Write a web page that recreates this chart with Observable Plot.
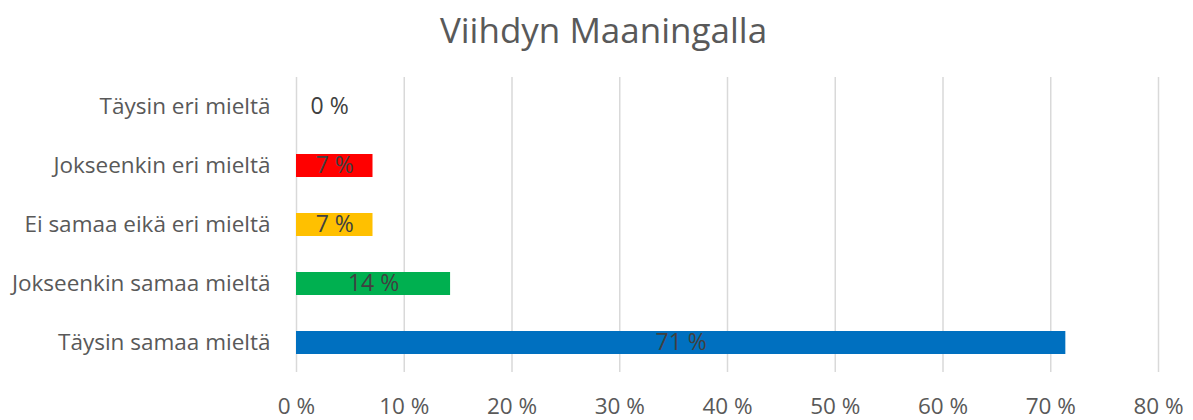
<!DOCTYPE html>
<html>
<head>
<meta charset="utf-8">
<script src="https://cdn.jsdelivr.net/npm/d3@7"></script>
<script src="https://cdn.jsdelivr.net/npm/@observablehq/plot@0.6"></script>
<style>
  html, body { margin: 0; padding: 0; background: #fff; }
  #wrap { width: 1193px; height: 420px; overflow: hidden; }
  #title { height: 62px; line-height: 60px; text-align: center; padding-left: 14px; font-family: "Open Sans", sans-serif; font-size: 35px; color: #595959; font-weight: 400; }
</style>
</head>
<body>
<div id="wrap">
  <div id="title">Viihdyn Maaningalla</div>
  <div id="chart"></div>
</div>
<script>
const categories = ["Täysin eri mieltä", "Jokseenkin eri mieltä", "Ei samaa eikä eri mieltä", "Jokseenkin samaa mieltä", "Täysin samaa mieltä"];
const values = [0, 7.1, 7.1, 14.3, 71.4];
const colors = ["#ffffff", "#ff0000", "#ffc000", "#00b050", "#0070c0"];
const xTicks = [0, 10, 20, 30, 40, 50, 60, 70, 80];

const data = categories.map((c, i) => ({category: c, value: values[i], color: colors[i]}));
const font = "'Open Sans', sans-serif";

const chart = Plot.plot({
  width: 1193,
  height: 358,
  marginTop: 15,
  marginBottom: 48,
  marginLeft: 296,
  marginRight: 35,
  style: {fontFamily: font, fontSize: "22px", color: "#595959", background: "#fff"},
  x: {domain: [0, 80], ticks: xTicks, tickFormat: d => `${d} %`, label: null},
  y: {domain: categories, paddingInner: 0.61, paddingOuter: 0.305, label: null},
  marks: [
    Plot.gridX(xTicks, {stroke: "#d9d9d9", strokeWidth: 1.5, strokeOpacity: 1}),
    Plot.barX(data.filter(d => d.value > 0), {x: "value", y: "category", fill: "color"}),
    Plot.text(data.filter(d => d.value > 0), {x: d => d.value / 2, y: "category", text: d => `${Math.round(d.value)} %`, fill: "#404040", fontSize: 23}),
    Plot.text(data.filter(d => d.value === 0), {x: 0, y: "category", text: d => `${Math.round(d.value)} %`, fill: "#404040", fontSize: 23, textAnchor: "start", dx: 14}),
    Plot.axisX(xTicks, {tickSize: 0, tickPadding: 26, fontSize: 22.5, fill: "#595959", label: null, tickFormat: d => `${d} %`}),
    Plot.axisY({tickSize: 0, tickPadding: 26, fontSize: 22.5, fill: "#595959", label: null})
  ]
});
document.getElementById("chart").appendChild(chart);
</script>
</body>
</html>
